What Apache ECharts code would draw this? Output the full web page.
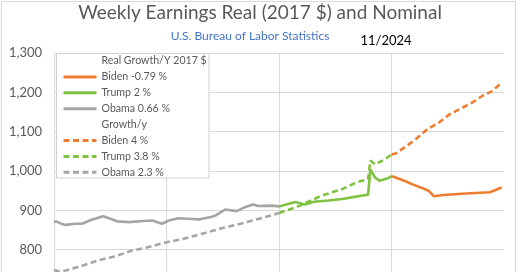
<!DOCTYPE html>
<html>
<head>
<meta charset="utf-8">
<script src="https://cdn.jsdelivr.net/npm/echarts@6/dist/echarts.min.js"></script>
<style>
  html, body { margin: 0; padding: 0; background: #fff; overflow: hidden; }
  #main { width: 520px; height: 300px; }
</style>
</head>
<body>
<div id="main"></div>
<script>
// ---- Data (month 'YYYY-MM', USD per week) ----
const obamaReal = [
  ['2009-01', 870], ['2009-02', 872], ['2009-04', 866], ['2009-06', 863], ['2009-10', 866],
  ['2010-01', 866], ['2010-05', 876], ['2010-10', 885], ['2011-04', 872], ['2011-09', 870],
  ['2012-03', 873], ['2012-07', 874], ['2012-11', 866], ['2013-02', 874], ['2013-06', 880],
  ['2013-12', 878], ['2014-03', 877], ['2014-08', 883], ['2014-10', 887], ['2015-02', 902],
  ['2015-07', 898], ['2015-10', 907], ['2016-02', 915], ['2016-04', 911], ['2016-10', 912],
  ['2017-01', 910]
];
const trumpReal = [
  ['2017-01', 910], ['2017-08', 921], ['2017-12', 915], ['2018-04', 922], ['2018-10', 925],
  ['2019-04', 929], ['2019-08', 933], ['2019-12', 937], ['2020-03', 940], ['2020-04', 1004],
  ['2020-06', 983], ['2020-08', 975], ['2020-12', 983], ['2021-01', 987]
];
const bidenReal = [
  ['2021-01', 987], ['2021-03', 983], ['2021-07', 974], ['2021-10', 966], ['2022-02', 957],
  ['2022-05', 949], ['2022-07', 936], ['2022-11', 939], ['2023-04', 941], ['2023-07', 942],
  ['2024-01', 944], ['2024-07', 946], ['2024-12', 958]
];
const obamaNominal = [
  ['2009-01', 748], ['2009-03', 745], ['2009-06', 747], ['2010-01', 759], ['2010-08', 773],
  ['2011-03', 783], ['2011-10', 797], ['2012-05', 806], ['2013-01', 819], ['2013-08', 827],
  ['2014-05', 842], ['2015-01', 855], ['2015-10', 868], ['2016-06', 881], ['2017-01', 893]
];
const trumpNominal = [
  ['2017-01', 893], ['2017-10', 912], ['2018-07', 937], ['2019-04', 954], ['2019-10', 971],
  ['2020-03', 979], ['2020-04', 1027], ['2020-06', 1017], ['2020-10', 1029], ['2021-01', 1042]
];
const bidenNominal = [
  ['2021-01', 1042], ['2021-03', 1045], ['2021-07', 1062], ['2021-11', 1079], ['2022-04', 1105],
  ['2022-09', 1122], ['2023-02', 1145], ['2023-07', 1160], ['2023-12', 1176], ['2024-04', 1192],
  ['2024-08', 1203], ['2024-12', 1225]
];
const yTicks = [700, 800, 900, 1000, 1100, 1200, 1300];
const legendNames = ['Real Growth/Y 2017 $', 'Biden -0.79 %', 'Trump 2 %', 'Obama 0.66 %',
                     'Growth/y', 'Biden 4 %', 'Trump 3.8 %', 'Obama 2.3 %'];
const titleText = 'Weekly Earnings Real (2017 $) and Nominal';
const subtitleText = 'U.S. Bureau of Labor Statistics';
const dateText = '11/2024';

// months since Jan 2009
function toMonth(s) { const p = s.split('-'); return (+p[0] - 2009) * 12 + (+p[1] - 1); }
function conv(arr) { return arr.map(d => [toMonth(d[0]), d[1]]); }

const ORANGE = '#ED7D31', GREEN = '#7FC241', GRAY = '#A5A5A5';
const FONT = 'Lato, "Open Sans", sans-serif';
const DASH = [6, 3.5];

function lineSeries(name, data, color, dashed) {
  return {
    name, type: 'line', data: conv(data), symbol: 'none', smooth: false,
    lineStyle: { color, width: 2.6, type: dashed ? DASH : 'solid' },
    itemStyle: { color }, z: 2
  };
}

const chart = echarts.init(document.getElementById('main'), null, { renderer: 'canvas' });
chart.setOption({
  animation: false,
  backgroundColor: '#fff',
  title: {
    text: titleText, left: 'center', top: 3, padding: 0,
    textStyle: { fontFamily: FONT, fontSize: 19, fontWeight: 'normal', color: '#595959' }
  },
  graphic: [
    { type: 'rect', z: 0, silent: true,
      shape: { x: 1.5, y: 1.5, width: 514, height: 320 },
      style: { fill: null, stroke: '#D9D9D9', lineWidth: 1 } },
    { type: 'text', silent: true, x: 250, y: 36,
      style: { text: subtitleText, align: 'center', verticalAlign: 'middle',
               fill: '#4472C4', font: '12px ' + FONT } },
    { type: 'text', silent: true, x: 386, y: 41,
      style: { text: dateText, align: 'center', verticalAlign: 'middle',
               fill: '#000', font: '13px ' + FONT } },
    { type: 'rect', z: 3, silent: true,
      shape: { x: 56.5, y: 53.5, width: 152.5, height: 124.5 },
      style: { fill: '#fff', stroke: '#D0D0D0', lineWidth: 1 } }
  ],
  grid: { left: 54, right: 16, top: 53, bottom: 11 },
  xAxis: {
    type: 'value', min: 0, max: 192, interval: 48,
    axisLabel: { show: false }, axisTick: { show: false }, axisLine: { show: false },
    splitLine: { show: true, showMaxLine: false, lineStyle: { color: '#D9D9D9', width: 1 } }
  },
  yAxis: {
    type: 'value', min: yTicks[0], max: yTicks[yTicks.length - 1], interval: 100,
    axisLine: { show: false }, axisTick: { show: false },
    axisLabel: { margin: 12, color: '#595959', fontSize: 13, fontFamily: FONT,
                 formatter: v => v.toLocaleString('en-US') },
    splitLine: { lineStyle: { color: '#D9D9D9', width: 1 } }
  },
  legend: {
    orient: 'vertical', left: 62, top: 54, padding: 0, z: 5,
    itemWidth: 33, itemHeight: 14, itemGap: 1.9,
    lineStyle: { width: 3 },
    itemStyle: { opacity: 0 },
    textStyle: { fontFamily: FONT, fontSize: 10.6, lineHeight: 14, color: '#595959' },
    selectedMode: false,
    data: legendNames.map((n, i) => (i === 0 || i === 4) ? { name: n, icon: 'none' } : { name: n })
  },
  series: [
    { name: legendNames[0], type: 'line', data: [] },
    { name: legendNames[4], type: 'line', data: [] },
    lineSeries(legendNames[7], obamaNominal, GRAY, true),
    lineSeries(legendNames[3], obamaReal, GRAY, false),
    lineSeries(legendNames[6], trumpNominal, GREEN, true),
    lineSeries(legendNames[2], trumpReal, GREEN, false),
    lineSeries(legendNames[5], bidenNominal, ORANGE, true),
    lineSeries(legendNames[1], bidenReal, ORANGE, false)
  ]
});
</script>
</body>
</html>
